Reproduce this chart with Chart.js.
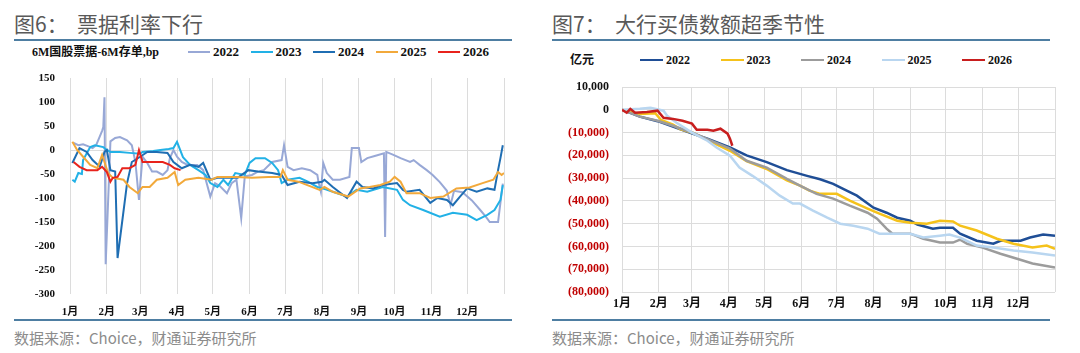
<!DOCTYPE html>
<html>
<head>
<meta charset="utf-8">
<script src="https://cdn.jsdelivr.net/npm/chart.js@4.4.1/dist/chart.umd.min.js"></script>
<style>
  body { margin: 0; width: 1080px; height: 353px; background: #fff; position: relative; overflow: hidden; font-family: "Noto Sans CJK SC", sans-serif; }
  .title { position: absolute; top: 8px; font-size: 21px; color: #595959; white-space: pre; line-height: 30px; }
  .rule { position: absolute; height: 2px; background: #4e7ea2; }
  .src { position: absolute; top: 327px; font-size: 15px; color: #8c8c8c; line-height: 22px; white-space: pre; }
  .unit { position: absolute; font: bold 12px "Liberation Serif", "Noto Sans CJK SC", serif; color: #111; line-height: 16px; }
  .legend { position: absolute; display: flex; font: bold 13px "Liberation Serif", serif; color: #111; line-height: 16px; }
  .legend .item { display: flex; align-items: center; }
  .legend .swatch { display: inline-block; height: 2.5px; margin-right: 3px; }
  canvas { position: absolute; }
</style>
</head>
<body>
<div class="title" style="left:14px">图6：  票据利率下行</div>
<div class="title" style="left:552px">图7：  大行买债数额超季节性</div>
<div class="rule" style="left:14px; top:39px; width:498px"></div>
<div class="rule" style="left:552px; top:39px; width:498px"></div>
<div class="unit" style="left:32px; top:44px">6M国股票据-6M存单,bp</div>
<div class="unit" style="left:570px; top:52px">亿元</div>
<div class="legend" id="billLegend" style="left:188px; top:44px"></div>
<div class="legend" id="buyLegend" style="left:640px; top:52px; font-size:12px"></div>
<canvas id="bill" width="516" height="278" style="left:14px; top:42px"></canvas>
<canvas id="buy" width="517" height="278" style="left:553px; top:42px"></canvas>
<div class="rule" style="left:14px; top:319px; width:498px"></div>
<div class="rule" style="left:552px; top:319px; width:498px"></div>
<div class="src" style="left:14px">数据来源：Choice，财通证券研究所</div>
<div class="src" style="left:552px">数据来源：Choice，财通证券研究所</div>

<script>
  // month axis (day of year)
  const monthLabels = ["1月", "2月", "3月", "4月", "5月", "6月", "7月", "8月", "9月", "10月", "11月", "12月"];
  const monthStarts = [0, 31, 59, 90, 120, 151, 181, 212, 243, 273, 304, 334, 365];
  const years = ["2022", "2023", "2024", "2025", "2026"];

  // 图6: 6M国股票据-6M存单, bp
  const billDays2022 = [3, 7, 11, 15, 19, 22, 25, 27, 28, 29, 30, 34, 38, 42, 48, 52, 55, 58, 61, 65, 69, 73, 78, 82, 84, 87, 90, 94, 99, 107, 112, 118, 122, 126, 132, 136, 140, 144, 147, 153, 158, 163, 170, 178, 180, 183, 188, 195, 202, 208, 209, 211, 213, 216, 221, 227, 235, 237, 243, 245, 250, 257, 264, 265, 266, 272, 278, 286, 289, 294, 300, 305, 311, 317, 320, 323, 330, 338, 345, 350, 353, 360, 364];
  const bill2022 = [15, 10, 12, 8, 4, 10, 28, 40, 48, 110, -238, 18, 25, 27, 20, 10, -25, -104, -14, -27, -45, -45, -52, -42, -17, 0, -14, -25, -31, -31, -42, -97, -69, -75, -90, -69, -62, -142, -55, -52, -45, -42, -25, -21, 10, -35, -42, -38, -42, -52, -67, -87, -27, -48, -62, -62, -56, 4, 4, -25, -17, -12, -7, -181, -4, -10, -17, -25, -21, -31, -42, -52, -67, -85, -115, -85, -88, -105, -125, -140, -150, -150, -70];
  const billDays2023 = [2, 4, 7, 10, 11, 17, 21, 28, 31, 34, 42, 50, 59, 61, 70, 76, 83, 87, 90, 95, 101, 108, 114, 118, 124, 129, 133, 139, 147, 151, 156, 164, 170, 175, 178, 183, 193, 200, 208, 215, 221, 233, 241, 250, 263, 275, 280, 286, 297, 311, 322, 334, 342, 351, 357, 362, 364];
  const bill2023 = [-62, -66, -48, -50, -21, 6, 10, 6, 0, -4, -4, -6, -8, -4, -2, 0, 2, 4, 17, -15, -31, -42, -52, -69, -77, -62, -73, -48, -52, -27, -17, -17, -27, -42, -69, -62, -58, -66, -77, -82, -87, -97, -83, -87, -77, -83, -104, -115, -125, -139, -131, -135, -146, -135, -125, -104, -73];
  const billDays2024 = [2, 8, 14, 19, 25, 29, 31, 34, 38, 40, 48, 52, 59, 65, 73, 82, 87, 94, 101, 108, 112, 118, 124, 141, 150, 158, 170, 178, 183, 193, 204, 212, 214, 221, 233, 241, 246, 255, 263, 275, 280, 283, 294, 303, 309, 317, 322, 328, 334, 342, 351, 357, 360, 362, 364];
  const bill2024 = [-27, 4, -4, -21, -35, -4, 0, -42, -45, -225, -69, -25, -14, -4, -4, -6, -25, -38, -31, -35, -27, -62, -58, -58, -42, -45, -48, -52, -73, -66, -69, -66, -62, -77, -100, -66, -77, -80, -73, -69, -83, -87, -83, -110, -100, -104, -115, -97, -80, -87, -80, -83, -42, -17, 10];
  const billDays2025 = [2, 6, 11, 17, 23, 27, 32, 36, 45, 50, 57, 61, 67, 73, 82, 88, 91, 97, 108, 119, 124, 139, 153, 167, 177, 179, 183, 192, 210, 214, 221, 234, 244, 252, 261, 269, 273, 278, 283, 294, 303, 314, 325, 336, 347, 356, 360, 363, 365];
  const bill2025 = [17, 0, -14, -31, -38, -10, -48, -58, -62, -77, -90, -77, -77, -62, -58, -46, -73, -62, -58, -62, -56, -56, -58, -56, -56, -42, -62, -66, -83, -77, -87, -97, -80, -77, -73, -66, -56, -66, -90, -90, -100, -97, -80, -78, -69, -62, -46, -52, -48];
  const billDays2026 = [3, 8, 14, 23, 27, 31, 34, 36, 40, 44, 50, 55, 58, 61, 70, 78, 84, 88, 93];
  const bill2026 = [-25, -35, -42, -42, -35, -46, -66, -58, -56, -38, -38, -31, 0, -25, -25, -25, -31, -38, -42];
  const billColors = ["#98a8d6", "#22b1e6", "#1f6eb3", "#f2a93b", "#e8231c"];

  // 图7: 大行买债累计, 亿元
  const buyDays2022 = [0, 15, 30, 57, 72, 91, 105, 122, 139, 156, 167, 178, 186, 198, 212, 223, 232, 243, 249, 262, 268, 279, 285, 299, 313, 319, 336, 344, 355, 365];
  const buy2022 = [0, -3000, -5000, -10000, -12700, -16500, -20000, -23000, -26500, -29000, -30500, -32500, -34600, -37700, -43000, -45200, -47400, -48700, -50400, -52200, -51800, -51800, -54400, -57500, -58800, -57500, -57500, -56100, -54800, -55300];
  const buyDays2023 = [0, 15, 28, 33, 43, 49, 60, 77, 91, 105, 122, 139, 150, 158, 167, 181, 192, 207, 217, 232, 243, 257, 268, 279, 285, 299, 316, 330, 346, 358, 365];
  const buy2023 = [0, -1800, -1500, -4500, -6500, -8500, -10200, -14500, -18000, -22500, -26000, -31000, -33300, -35500, -36900, -36900, -39900, -43400, -45600, -48700, -49600, -50000, -48700, -49000, -50900, -53000, -56600, -58800, -60500, -59600, -61000];
  const buyDays2024 = [0, 15, 30, 43, 60, 77, 91, 105, 122, 139, 150, 164, 178, 192, 207, 215, 223, 228, 243, 254, 268, 279, 285, 291, 304, 319, 333, 346, 365];
  const buy2024 = [0, -3000, -4800, -7000, -10200, -14000, -17000, -22400, -25400, -30300, -33300, -36900, -39000, -42100, -45200, -47800, -52200, -54400, -54400, -56600, -58300, -58300, -57000, -58800, -60500, -63200, -65400, -67500, -69300];
  const buyDays2025 = [0, 15, 24, 35, 38, 46, 59, 72, 80, 91, 99, 110, 122, 133, 144, 150, 161, 173, 184, 195, 207, 217, 228, 243, 254, 268, 276, 285, 299, 313, 330, 346, 365];
  const buy2025 = [0, 400, 900, -400, -2600, -5700, -10000, -13600, -16700, -20200, -25400, -29000, -33300, -37700, -41200, -41200, -44300, -47400, -50000, -50900, -52200, -54400, -54400, -54400, -56100, -55300, -54800, -56100, -59600, -60500, -61800, -62700, -64000];
  const buyDays2026 = [0, 4, 7, 11, 21, 30, 35, 43, 51, 59, 63, 72, 77, 83, 89, 91, 93];
  const buy2026 = [0, -1300, 400, -1300, -1000, -400, -3500, -4000, -4800, -6100, -8800, -8800, -9200, -8300, -10500, -12700, -15800];
  const buyColors = ["#1f4e96", "#f5c21b", "#9c9c9c", "#b9d6f0", "#c81e1e"];

  const serif = '"Liberation Serif", "Noto Sans CJK SC", serif';

  function pts(xs, ys) {
    return xs.map((x, i) => ({ x: x, y: ys[i] }));
  }

  function makeSets(dayLists, valLists, colors, width) {
    return years.map((yr, i) => ({
      label: yr,
      data: pts(dayLists[i], valLists[i]),
      borderColor: colors[i],
      backgroundColor: colors[i],
      borderWidth: width,
      pointRadius: 0,
      tension: 0,
      order: years.length - i
    }));
  }

  function monthAxis(size, pad, height) {
    return {
      type: "linear",
      min: 0,
      max: 365,
      afterBuildTicks: (s) => { s.ticks = monthStarts.map((v) => ({ value: v })); },
      afterFit: (s) => { s.height = height; },
      ticks: {
        autoSkip: false,
        maxRotation: 0,
        padding: pad,
        color: "#111",
        font: { family: serif, size: size, weight: "bold" },
        callback: (v, i) => monthLabels[i] || ""
      },
      grid: { color: "#dcdcdc", drawTicks: false },
      border: { display: false }
    };
  }

  function buildLegend(chart, id, itemWidth, lineLen) {
    const box = document.getElementById(id);
    chart.data.datasets.forEach((ds) => {
      const item = document.createElement("span");
      item.className = "item";
      item.style.width = itemWidth + "px";
      const sw = document.createElement("span");
      sw.className = "swatch";
      sw.style.width = lineLen + "px";
      sw.style.background = ds.borderColor;
      item.appendChild(sw);
      item.appendChild(document.createTextNode(ds.label));
      box.appendChild(item);
    });
  }

  const billChart = new Chart(document.getElementById("bill"), {
    type: "line",
    data: {
      datasets: makeSets(
        [billDays2022, billDays2023, billDays2024, billDays2025, billDays2026],
        [bill2022, bill2023, bill2024, bill2025, bill2026],
        billColors, 2)
    },
    options: {
      responsive: false,
      animation: false,
      layout: { padding: { top: 36, right: 26, left: 0, bottom: 0 } },
      plugins: { legend: { display: false }, tooltip: { enabled: false } },
      scales: {
        x: monthAxis(11, 12, 26),
        y: {
          min: -300,
          max: 150,
          afterFit: (s) => { s.width = 56; },
          ticks: {
            stepSize: 50,
            padding: 15,
            color: "#111",
            font: { family: serif, size: 11, weight: "bold" }
          },
          grid: {
            drawTicks: false,
            color: (c) => (c.tick && c.tick.value === 0 ? "#dcdcdc" : "rgba(0,0,0,0)")
          },
          border: { display: false }
        }
      }
    }
  });

  const buyChart = new Chart(document.getElementById("buy"), {
    type: "line",
    data: {
      datasets: makeSets(
        [buyDays2022, buyDays2023, buyDays2024, buyDays2025, buyDays2026],
        [buy2022, buy2023, buy2024, buy2025, buy2026],
        buyColors, 2.5)
    },
    options: {
      responsive: false,
      animation: false,
      layout: { padding: { top: 45, right: 15, left: 0, bottom: 0 } },
      plugins: { legend: { display: false }, tooltip: { enabled: false } },
      scales: {
        x: monthAxis(12, 5, 28),
        y: {
          min: -80000,
          max: 10000,
          afterFit: (s) => { s.width = 69; },
          ticks: {
            stepSize: 10000,
            padding: 13,
            font: { family: serif, size: 12, weight: "bold" },
            color: (c) => (c.tick && c.tick.value < 0 ? "#c00000" : "#111"),
            callback: (v) => {
              const s = Math.abs(v).toLocaleString("en-US");
              return v < 0 ? "(" + s + ")" : s;
            }
          },
          grid: { color: "#dcdcdc", drawTicks: false },
          border: { display: false }
        }
      }
    }
  });

  buildLegend(billChart, "billLegend", 62.5, 22);
  buildLegend(buyChart, "buyLegend", 80.5, 23);
</script>
</body>
</html>
